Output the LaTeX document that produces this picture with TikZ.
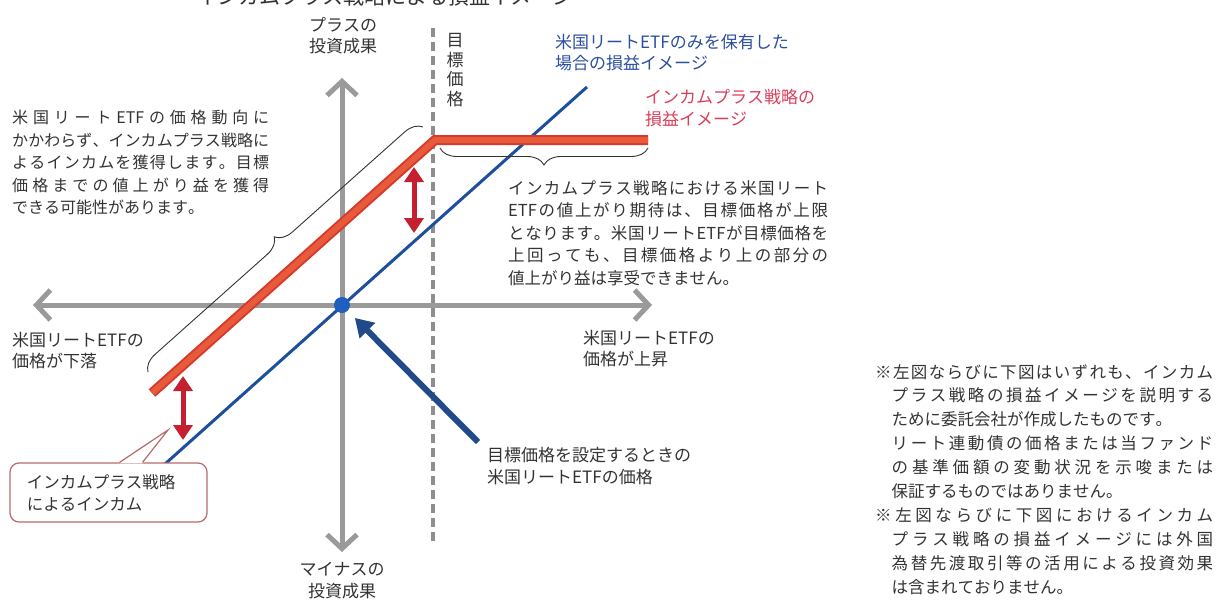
\documentclass[tikz,border=0pt]{standalone}
\usepackage{fontspec}
\setmainfont{Noto Sans CJK JP}
\usetikzlibrary{arrows.meta,decorations.pathreplacing}
\tolerance=10000
\hbadness=10000
% stretchable glue between Japanese characters, so that lines can be justified
\XeTeXinterchartokenstate=1
\newcount\jchar
\jchar="3041 \loop \XeTeXcharclass\jchar=1 \advance\jchar by 1 \ifnum\jchar<"3100 \repeat
\jchar="4E00 \loop \XeTeXcharclass\jchar=1 \advance\jchar by 1 \ifnum\jchar<"A000 \repeat
\XeTeXcharclass"3001=3
\XeTeXcharclass"3002=3
\newcommand{\jglue}{\hskip 0pt plus 0.4em\relax}
\XeTeXinterchartoks 1 1 = {\jglue}
\XeTeXinterchartoks 1 3 = {\jglue}
\XeTeXinterchartoks 3 1 = {\jglue}
\XeTeXinterchartoks 0 1 = {\jglue}
\XeTeXinterchartoks 1 0 = {\jglue}
\XeTeXinterchartoks 3 0 = {\jglue}
% one justified line of a given width
\newcommand{\jline}[2]{\makebox[#1][s]{#2}}
\definecolor{axisgray}{HTML}{9A9A9A}
\definecolor{dashgray}{HTML}{8E8E8E}
\definecolor{etfblue}{HTML}{1D4F9C}
\definecolor{dotblue}{HTML}{1F5FBF}
\definecolor{pointblue}{HTML}{204A8A}
\definecolor{barred}{HTML}{D63A2A}
\definecolor{barinner}{HTML}{E85A3C}
\definecolor{gapred}{HTML}{C42030}
\definecolor{textgray}{HTML}{333333}
\definecolor{lblblue}{HTML}{2B4F9E}
\definecolor{lblred}{HTML}{D8405A}
\definecolor{boxred}{HTML}{B86A6A}
\tikzset{
  axisline/.style={draw=axisgray, line width=5pt,
    {Straight Barb[length=14pt,width=30pt]}-{Straight Barb[length=14pt,width=30pt]}},
  targetline/.style={draw=dashgray, line width=3.5pt, dash pattern=on 9pt off 5pt},
  etfline/.style={draw=etfblue, line width=3pt},
  incomeline/.style={draw=barred, line width=2pt, double=barinner, double distance=6pt},
  spanbrace/.style={decorate, decoration={brace, amplitude=17pt}, draw=black!80, line width=0.9pt},
  gaparrow/.style={draw=gapred, line width=5pt,
    {Triangle[length=15pt,width=19pt]}-{Triangle[length=15pt,width=19pt]}},
  pointarrow/.style={draw=pointblue, line width=6pt, -{Triangle[length=18pt,width=21pt]}},
  lbl/.style={inner sep=0pt, text=textgray, font=\fontsize{17}{21.5}\selectfont, align=left},
  blocktext/.style={inner sep=0pt, text=textgray, font=\fontsize{16.5}{22.5}\selectfont,
    align=justify, anchor=north west},
  notetext/.style={inner sep=0pt, text=textgray, font=\fontsize{16.5}{23.9}\selectfont,
    align=left, anchor=north west},
  incbox/.style={draw=boxred, line width=1.2pt, rounded corners=9pt, fill=white,
    text width=163pt, inner xsep=17pt, inner ysep=0pt, minimum height=59pt, align=left,
    text=textgray, font=\fontsize{16.5}{22}\selectfont}
}
\begin{document}
\begin{tikzpicture}[x=1pt, y=-1pt]
  \useasboundingbox (0,0) rectangle (1219,600);
  % Title (cut by the top edge)
  \node[lbl, font=\fontsize{21}{24}\selectfont] (title) at (385,-4) {インカムプラス戦略による損益イメージ};
  % Axes
  \coordinate (xl) at (33,305);
  \coordinate (xr) at (652,305);
  \coordinate (yt) at (342,78);
  \coordinate (yb) at (342,552);
  \draw[axisline] (xl) -- (xr);
  \draw[axisline] (yb) -- (yt);
  % Target price
  \coordinate (tt) at (433,28);
  \coordinate (tb) at (433,543);
  \draw[targetline] (tt) -- (tb);
  % ETF only
  \coordinate (e1) at (165,464);
  \coordinate (e2) at (587,87);
  \draw[etfline] (e1) -- (e2);
  % Income plus
  \coordinate (r1) at (152,393);
  \coordinate (r2) at (435,140);
  \coordinate (r3) at (648,140);
  \draw[incomeline] (r1) -- (r2) -- (r3);
  % Braces
  \coordinate (b1) at (148,372);
  \coordinate (b2) at (423,127);
  \coordinate (b3) at (648,148);
  \coordinate (b4) at (440,148);
  \draw[spanbrace] (b1) -- (b2);
  \draw[spanbrace] (b3) -- (b4);
  % Income gaps
  \coordinate (g1) at (414,167);
  \coordinate (g2) at (414,233);
  \coordinate (g3) at (183,376);
  \coordinate (g4) at (183,440);
  \draw[gaparrow] (g1) -- (g2);
  \draw[gaparrow] (g3) -- (g4);
  % Price at start
  \node[circle, fill=dotblue, minimum size=16pt, inner sep=0pt] (origin) at (342,305) {};
  % Labels
  \node[lbl, align=center, anchor=north] (plus) at (343,17) {プラスの\\投資成果};
  \node[lbl, align=center, anchor=north] (minus) at (342,562) {マイナスの\\投資成果};
  \node[lbl, anchor=north west] (fall) at (12,332) {米国リートETFの\\価格が下落};
  \node[lbl, anchor=north west] (rise) at (583,330) {米国リートETFの\\価格が上昇};
  \node[lbl, anchor=north west] (setlbl) at (487,447) {目標価格を設定するときの\\米国リートETFの価格};
  \node[lbl, anchor=north west, text=lblblue] (etflbl) at (555,34) {米国リートETFのみを保有した\\場合の損益イメージ};
  \node[lbl, anchor=north west, text=lblred] (incomelbl) at (645,89) {インカムプラス戦略の\\損益イメージ};
  \node[lbl, align=center, font=\fontsize{17}{19.5}\selectfont] (tgtlbl) at (455,70) {目\\標\\価\\格};
  \draw[pointarrow, shorten >=10pt] ([xshift=-9pt,yshift=5pt]setlbl.north west) -- (origin);
  % Text blocks
  \node[blocktext, text width=257pt, font=\fontsize{16}{22.5}\selectfont] (keep) at (12,110) {米国リートETFの価格動向に\linebreak かかわらず、インカムプラス戦略に\linebreak よるインカムを獲得します。目標\linebreak 価格までの値上がり益を獲得\linebreak できる可能性があります。};
  \node[blocktext, text width=320pt] (cap) at (508,180) {インカムプラス戦略における米国リート\linebreak ETFの値上がり期待は、目標価格が上限\linebreak となります。米国リートETFが目標価格を\linebreak 上回っても、目標価格より上の部分の\linebreak 値上がり益は享受できません。};
  % Notes
  \node[notetext] (notes) at (875,364) {\jline{338pt}{※左図ならびに下図はいずれも、インカム}\\%
    \hspace*{1em}\jline{321.5pt}{プラス戦略の損益イメージを説明する}\\%
    \hspace*{1em}ために委託会社が作成したものです。\\%
    \hspace*{1em}\jline{321.5pt}{リート連動債の価格または当ファンド}\\%
    \hspace*{1em}\jline{321.5pt}{の基準価額の変動状況を示唆または}\\%
    \hspace*{1em}保証するものではありません。\\%
    \jline{338pt}{※左図ならびに下図におけるインカム}\\%
    \hspace*{1em}\jline{321.5pt}{プラス戦略の損益イメージには外国}\\%
    \hspace*{1em}\jline{321.5pt}{為替先渡取引等の活用による投資効果}\\%
    \hspace*{1em}は含まれておりません。};
  % Income callout
  \node[incbox] (income) at (108.5,492.5) {インカムプラス戦略\\によるインカム};
  \coordinate (incometip) at (168,430);
  \fill[white] ([xshift=11pt,yshift=-1pt]income.north) -- (incometip) -- ([xshift=34pt,yshift=-1pt]income.north) -- cycle;
  \draw[boxred, line width=1.2pt] ([xshift=11pt]income.north) -- (incometip) -- ([xshift=34pt]income.north);
\end{tikzpicture}
\end{document}
